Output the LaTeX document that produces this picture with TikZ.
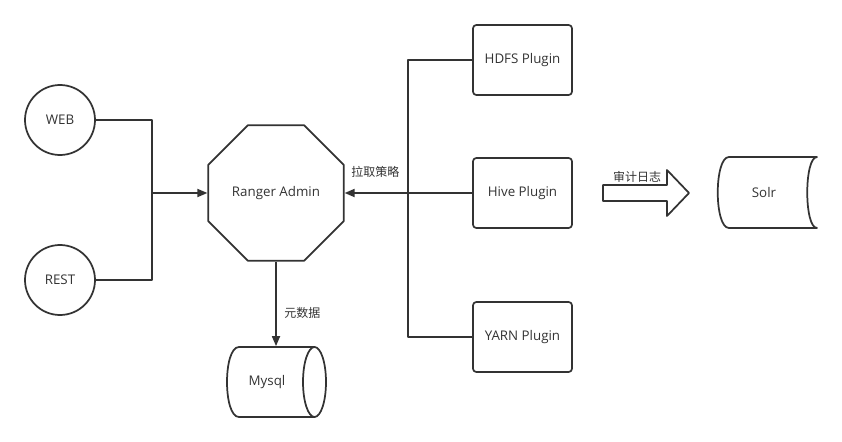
\documentclass[tikz,border=0pt]{standalone}
\usepackage{fontspec}
\setmainfont{Open Sans}
\newfontfamily\cjk{Noto Sans CJK SC}
\usetikzlibrary{shapes.geometric,arrows.meta}
\definecolor{ink}{HTML}{333333}
\begin{document}
\begin{tikzpicture}[x=.75pt, y=-.75pt, font=\fontsize{10}{12}\selectfont, color=ink, line width=1.3pt, line join=round, >={Triangle[length=7.5pt,width=6pt]},
	client/.style={draw, circle, minimum size=52.5pt, inner sep=0pt},
	plugin/.style={draw, rounded corners=2.5pt, minimum width=74.25pt, minimum height=52.5pt, inner sep=0pt},
	store/.style={minimum width=57pt, minimum height=52.5pt, inner sep=0pt},
	tag/.style={font=\fontsize{9}{11}\cjk}]
	\useasboundingbox (0,0) rectangle (842,442);
	\node[client] (web) at (60,120) {WEB};
	\node[client] (rest) at (60,280) {REST};
	\node[draw, regular polygon, regular polygon sides=8, minimum size=110pt, inner sep=0pt] (admin) at (276,193) {Ranger Admin};
	\node[plugin] (hdfs) at (522.5,60) {HDFS Plugin};
	\node[plugin] (hive) at (522.5,193) {Hive Plugin};
	\node[plugin] (yarn) at (522.5,337) {YARN Plugin};
	\node[store] (mysql) at (267,382) {Mysql};
	\node[store] (solr) at (764,192.5) {Solr};
	\coordinate (lbus) at (152,193);
	\coordinate (rbus) at (408,193);
	% clients -> admin
	\draw (web.east) -| (lbus) |- (rest.east);
	\draw[->] (lbus) -- (admin.west);
	% plugins -> admin
	\draw (hdfs.west) -| (rbus) |- (yarn.west);
	\draw[->] (hive.west) -- (admin.east);
	\node[tag, anchor=west] (pull) at (346,172) {拉取策略};
	% admin -> mysql
	\draw[->] (admin.south) -- (admin.south |- mysql.north);
	\node[tag, anchor=west] (meta) at (279,313) {元数据};
	\draw (314.5,347) -- (239,347) .. controls (223,347) and (223,417) .. (239,417) -- (314.5,417);
	\draw (314.5,382) ellipse [x radius=11.5, y radius=35];
	% audit -> solr
	\draw (603,185) -- (667,185) -- (667,170) -- (689,193) -- (667,216) -- (667,201) -- (603,201) -- cycle;
	\node[tag] (audit) at (637,177) {审计日志};
	\draw (729,157) -- (817,157) .. controls (804,157) and (804,228) .. (817,228) -- (729,228) .. controls (714,228) and (714,157) .. (729,157) -- cycle;
\end{tikzpicture}
\end{document}
